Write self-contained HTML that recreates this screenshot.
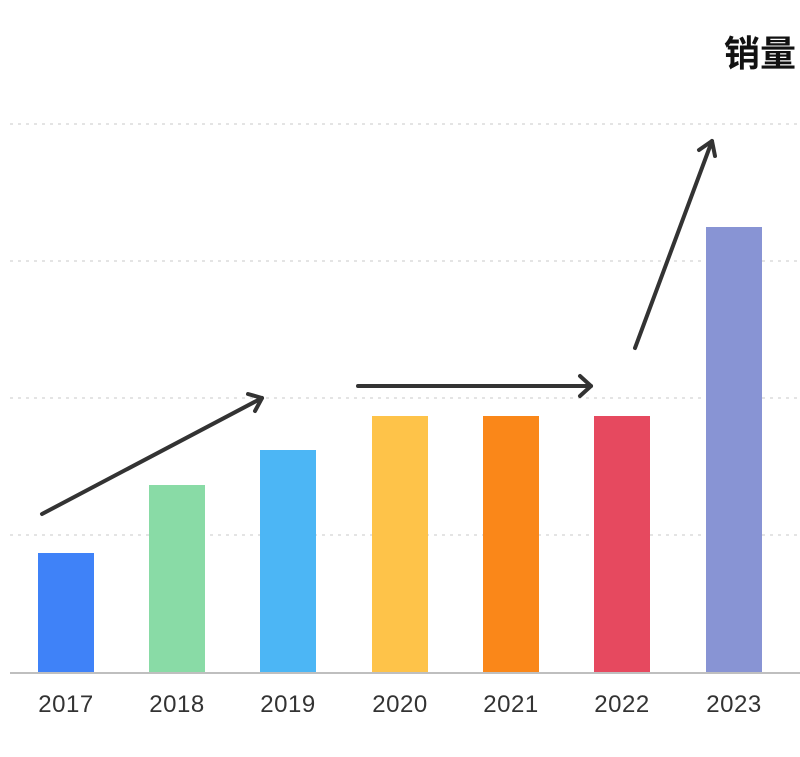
<!DOCTYPE html>
<html><head><meta charset="utf-8"><style>
html,body{margin:0;padding:0;background:#fff;}
body{width:800px;height:752px;overflow:hidden;position:relative;}
</style></head><body>
<svg width="800" height="752" viewBox="0 0 800 752" xmlns="http://www.w3.org/2000/svg">
<g stroke="#dcdcdc" stroke-width="1.5" stroke-dasharray="3,5">
<line x1="10" y1="124" x2="800" y2="124"/>
<line x1="10" y1="261" x2="800" y2="261"/>
<line x1="10" y1="398" x2="800" y2="398"/>
<line x1="10" y1="535" x2="800" y2="535"/>
</g>
<rect x="38" y="553" width="56" height="119" fill="#3f82f8"/>
<rect x="149" y="485" width="56" height="187" fill="#89dba6"/>
<rect x="260" y="450" width="56" height="222" fill="#4cb6f5"/>
<rect x="372" y="416" width="56" height="256" fill="#fec349"/>
<rect x="483" y="416" width="56" height="256" fill="#fa8719"/>
<rect x="594" y="416" width="56" height="256" fill="#e6495f"/>
<rect x="706" y="227" width="56" height="445" fill="#8894d4"/>
<line x1="10" y1="673" x2="800" y2="673" stroke="#aaa" stroke-width="1.5"/>
<g font-family="Liberation Sans, sans-serif" font-size="24" fill="#333" text-anchor="middle" letter-spacing="0.5">
<text x="66" y="712">2017</text><text x="177" y="712">2018</text><text x="288" y="712">2019</text>
<text x="400" y="712">2020</text><text x="511" y="712">2021</text><text x="622" y="712">2022</text><text x="734" y="712">2023</text>
</g>
<text x="724" y="66" font-family="Liberation Sans, 'Noto Sans CJK SC', sans-serif" font-size="36" font-weight="bold" fill="#111">销量</text>
<g stroke="#333" stroke-width="4" fill="none" stroke-linecap="round" stroke-linejoin="round">
<line x1="42" y1="514" x2="262" y2="398"/><polyline points="248,394 262,398 255,411"/>
<line x1="358" y1="386" x2="591" y2="386"/><polyline points="580,376 591,386 580,396"/>
<line x1="635" y1="348" x2="712" y2="141"/><polyline points="699,150 712,141 715,156"/>
</g>
</svg>
</body></html>
